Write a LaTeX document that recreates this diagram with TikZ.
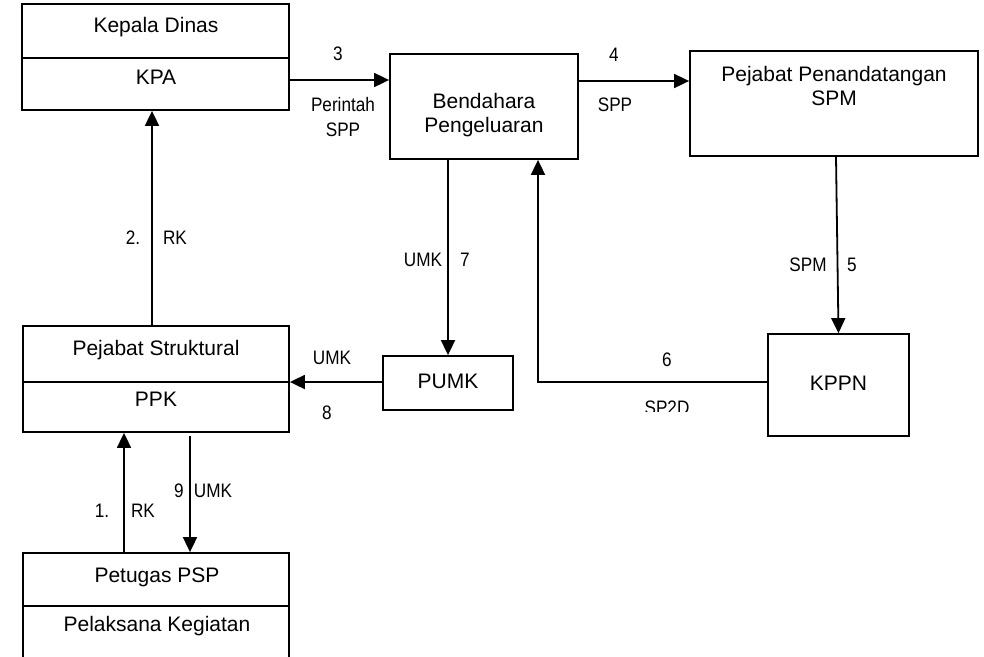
\documentclass[tikz,border=0pt]{standalone}
\usepackage{fontspec}
\setmainfont{Liberation Sans}
\newfontfamily\lblfont{Liberation Sans}[FakeStretch=0.88]
\usetikzlibrary{arrows.meta,calc}

\tikzset{
  box/.style={draw=black, line width=1.8pt, rectangle, inner sep=0pt},
  divider/.style={draw=black, line width=1.8pt},
  txt/.style={inner sep=0pt, align=center, font=\fontsize{21}{24}\selectfont},
  lbl/.style={inner sep=0pt, align=center, font=\lblfont\fontsize{19.5}{25}\selectfont},
  arr/.style={draw=black, line width=1.8pt, -{Triangle[length=15pt,width=14pt]}},
  conn/.style={draw=black, line width=1.8pt}
}

\begin{document}
\begin{tikzpicture}[x=1pt, y=-1pt]
\clip (0,0) rectangle (984,656);
\fill[white] (0,0) rectangle (984,656);

% --- boxes ---
\node[box, minimum width=267pt, minimum height=106pt] (kd) at (155.5,57) {};
\draw[divider] (kd.west |- 0,58) -- (kd.east |- 0,58);
\node[txt] (kdt) at (156,27) {Kepala Dinas};
\node[txt] (kpa) at (156,77) {KPA};

\node[box, minimum width=188pt, minimum height=105pt] (bp) at (484,106.5) {};
\node[txt] (bpt) at (484,115) {Bendahara\\Pengeluaran};

\node[box, minimum width=288pt, minimum height=105pt] (pp) at (834,103.5) {};
\node[txt] (ppt) at (834,86) {Pejabat Penandatangan\\SPM};

\node[box, minimum width=266pt, minimum height=106pt] (ps) at (156,379) {};
\draw[divider] (ps.west |- 0,382) -- (ps.east |- 0,382);
\node[txt] (pst) at (156,350) {Pejabat Struktural};
\node[txt] (ppk) at (156,399) {PPK};

\node[box, minimum width=130pt, minimum height=54pt] (pumk) at (448,383) {};
\node[txt] (pumkt) at (448,381) {PUMK};

\node[box, minimum width=141pt, minimum height=102pt] (kppn) at (838.5,385) {};
\node[txt] (kppnt) at (838.5,383) {KPPN};

% open-ended box running past the lower edge
\node[box, minimum width=266pt, minimum height=130pt] (pt) at (156,618) {};
\draw[divider] (pt.west |- 0,606) -- (pt.east |- 0,606);
\node[txt] (ptt) at (157,577) {Petugas PSP};
\node[txt] (pk) at (157,626) {Pelaksana Kegiatan};

% --- connectors ---
% 3: KPA -> Bendahara
\draw[arr] (kd.east |- 0,80) -- (bp.west |- 0,80);
\node[lbl] (l3) at (338,54) {3};
\node[lbl] (l3b) at (343,117) {Perintah\\SPP};

% 4: Bendahara -> Pejabat Penandatangan SPM
\draw[arr] (bp.east |- 0,81) -- (pp.west |- 0,81);
\node[lbl] (l4) at (614,55) {4};
\node[lbl] (l4b) at (615,105) {SPP};

% 5: SPM -> KPPN
\draw[arr] ([xshift=2pt]pp.south) -- (kppn.north);
\node[lbl] (l5a) at (808,265) {SPM};
\node[lbl] (l5) at (852,265) {5};

% 6: KPPN -> Bendahara (SP2D)
\coordinate (c6) at (538,382);
\draw[arr] (kppn.west |- c6) -- (c6) -- (c6 |- bp.south);
\node[lbl] (l6) at (667,360) {6};
\begin{scope}
  \clip (600,390) rectangle (740,411);
  \node[lbl] (l6b) at (667,408) {SP2D};
\end{scope}

% 7: Bendahara -> PUMK
\draw[arr] (bp.south -| pumk.north) -- (pumk.north);
\node[lbl] (l7a) at (423,260) {UMK};
\node[lbl] (l7) at (465,260) {7};

% 8: PUMK -> Pejabat Struktural
\draw[arr] (pumk.west |- 0,382) -- (ps.east |- 0,382);
\node[lbl] (l8a) at (332,358) {UMK};
\node[lbl] (l8) at (327,413) {8};

% 2: Pejabat Struktural -> Kepala Dinas
\draw[arr] (152,0 |- ps.north) -- (152,0 |- kd.south);
\node[lbl] (l2) at (133,238) {2.};
\node[lbl] (l2b) at (175,238) {RK};

% 1: Petugas PSP -> Pejabat Struktural
\draw[arr] (124,0 |- pt.north) -- (124,0 |- ps.south);
\node[lbl] (l1) at (102,511) {1.};
\node[lbl] (l1b) at (143,511) {RK};

% 9: Pejabat Struktural -> Petugas PSP
\draw[arr] (190,436) -- (190,0 |- pt.north);
\node[lbl] (l9) at (179,491) {9};
\node[lbl] (l9b) at (213,491) {UMK};
\end{tikzpicture}
\end{document}
